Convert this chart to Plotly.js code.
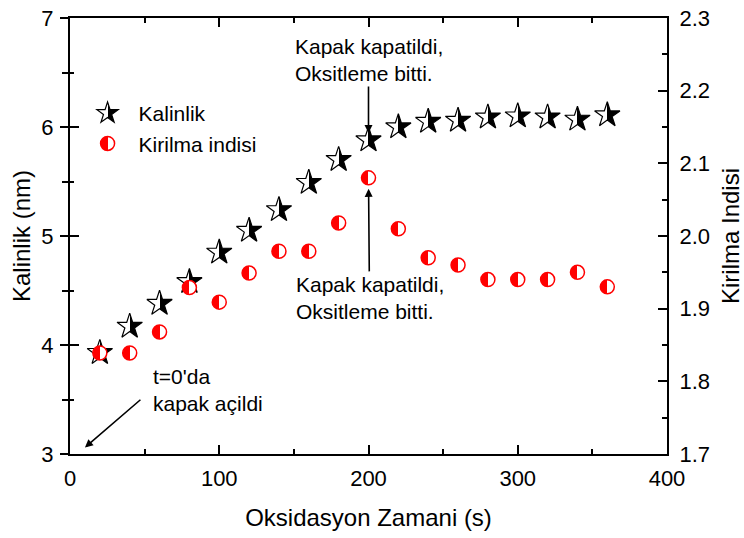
<!DOCTYPE html>
<html>
<head>
<meta charset="utf-8">
<script src="https://cdn.plot.ly/plotly-3.0.1.min.js"></script>
<style>html,body{margin:0;padding:0;background:#fff}#chart{width:744px;height:538px}</style>
</head>
<body>
<div id="chart"></div>
<script>
// Data
const timeS = [20, 40, 60, 80, 100, 120, 140, 160, 180, 200, 220, 240, 260, 280, 300, 320, 340, 360];
const kalinlik = [3.93, 4.17, 4.38, 4.58, 4.85, 5.05, 5.24, 5.49, 5.70, 5.88, 6.00, 6.05, 6.06, 6.09, 6.10, 6.09, 6.07, 6.11];
const kirilma = [1.839, 1.839, 1.868, 1.929, 1.909, 1.949, 1.979, 1.979, 2.018, 2.080, 2.010, 1.970, 1.960, 1.940, 1.940, 1.940, 1.950, 1.930];
const xTicks = [0, 100, 200, 300, 400];
const yLeftTicks = [3, 4, 5, 6, 7];
const yRightTicks = [1.7, 1.8, 1.9, 2.0, 2.1, 2.2, 2.3];

const FONT = '"Liberation Sans", Arial, sans-serif';
const closeIdx = timeS.indexOf(200);

const traces = [
  {
    x: timeS, y: kalinlik, name: 'Kalinlik', type: 'scatter', mode: 'markers', yaxis: 'y',
    marker: {symbol: 'star', size: 19, color: '#ffffff',
      gradient: {type: 'horizontal', color: '#000000'},
      line: {color: '#000000', width: 1.2}}
  },
  {
    x: timeS, y: kirilma, name: 'Kirilma indisi', type: 'scatter', mode: 'markers', yaxis: 'y2',
    marker: {symbol: 'circle', size: 14, color: '#ff0000',
      gradient: {type: 'horizontal', color: '#ffffff'},
      line: {color: '#ff0000', width: 1.5}}
  },
  // empty trace so the outward-tick overlay axis is laid out
  {x: [], y: [], type: 'scatter', mode: 'markers', yaxis: 'y3', showlegend: false, hoverinfo: 'skip'}
];

const axisCommon = {
  showgrid: false, zeroline: false, showline: true, linecolor: '#000', linewidth: 2,
  ticks: 'inside', ticklen: 9, tickwidth: 2, tickcolor: '#000',
  tickfont: {family: FONT, size: 22, color: '#000'}
};

const layout = {
  width: 744, height: 538,
  margin: {l: 70, r: 77, t: 18, b: 84},
  paper_bgcolor: '#fff', plot_bgcolor: '#fff',
  font: {family: FONT, color: '#000'},
  showlegend: true,
  legend: {x: 0.011, y: 0.828, xanchor: 'left', yanchor: 'top', bgcolor: 'rgba(0,0,0,0)',
    font: {family: FONT, size: 21, color: '#000'}, itemwidth: 52, tracegroupgap: 0},
  xaxis: Object.assign({}, axisCommon, {
    range: [0, 400], tickvals: xTicks, mirror: 'ticks', ticklabelstandoff: 4,
    minor: {ticks: 'inside', dtick: 50, ticklen: 5, tickwidth: 2, tickcolor: '#000'},
    title: {text: 'Oksidasyon Zamani (s)', font: {family: FONT, size: 24, color: '#000'}, standoff: 19}
  }),
  yaxis: Object.assign({}, axisCommon, {
    range: [3, 7], tickvals: yLeftTicks, mirror: true, ticklabelstandoff: 10,
    minor: {ticks: 'inside', dtick: 0.5, ticklen: 4, tickwidth: 2, tickcolor: '#000'},
    title: {text: 'Kalinlik (nm)', font: {family: FONT, size: 24, color: '#000'}, standoff: 4}
  }),
  yaxis2: Object.assign({}, axisCommon, {
    range: [1.7, 2.3], tickvals: yRightTicks, tickformat: '.1f', overlaying: 'y', side: 'right',
    ticklabelstandoff: 6,
    minor: {ticks: 'inside', dtick: 0.05, ticklen: 5, tickwidth: 2, tickcolor: '#000'},
    title: {text: 'Kirilma Indisi', font: {family: FONT, size: 24, color: '#000'}, standoff: 16}
  }),
  // outward half of the crossing ticks on the left axis
  yaxis3: {
    overlaying: 'y', side: 'left', anchor: 'x', range: [3, 7], tickvals: yLeftTicks,
    showgrid: false, zeroline: false, showline: false, showticklabels: false,
    ticks: 'outside', ticklen: 9, tickwidth: 2, tickcolor: '#000',
    minor: {ticks: 'outside', dtick: 0.5, ticklen: 7, tickwidth: 2, tickcolor: '#000'}
  },
  annotations: [
    {
      xref: 'x', yref: 'y', x: timeS[closeIdx], y: kalinlik[closeIdx],
      text: 'Kapak kapatildi,<br>Oksitleme bitti.', align: 'left',
      showarrow: true, arrowhead: 2, arrowsize: 1, arrowwidth: 1.6, arrowcolor: '#000',
      ax: 0, ay: -80, standoff: 7,
      font: {family: FONT, size: 21, color: '#000'}
    },
    {
      xref: 'x', yref: 'y2', x: timeS[closeIdx], y: kirilma[closeIdx],
      text: 'Kapak kapatildi,<br>Oksitleme bitti.', align: 'left',
      showarrow: true, arrowhead: 2, arrowsize: 1, arrowwidth: 1.6, arrowcolor: '#000',
      ax: 1, ay: 120, standoff: 11,
      font: {family: FONT, size: 21, color: '#000'}
    },
    {
      xref: 'x', yref: 'y', x: 54, y: 3.59, xanchor: 'left', yanchor: 'middle',
      text: "t=0'da<br>kapak açildi", align: 'left', showarrow: false,
      font: {family: FONT, size: 21, color: '#000'}
    },
    {
      xref: 'x', yref: 'y', x: 10, y: 3.06, text: '',
      showarrow: true, arrowhead: 2, arrowsize: 1, arrowwidth: 1.6, arrowcolor: '#000',
      ax: 57, ay: -49
    }
  ]
};

const gd = document.getElementById('chart');
Plotly.newPlot(gd, traces, layout, {displayModeBar: false, staticPlot: true}).then(function () {
  // make the marker gradients a sharp half/half split
  gd.querySelectorAll('linearGradient').forEach(function (g) {
    const stops = g.querySelectorAll('stop');
    if (stops.length !== 2) return;
    const a = stops[0].cloneNode(true); a.setAttribute('offset', '50%');
    const b = stops[1].cloneNode(true); b.setAttribute('offset', '50%');
    g.insertBefore(a, stops[1]);
    g.insertBefore(b, stops[1]);
  });
});
</script>
</body>
</html>
